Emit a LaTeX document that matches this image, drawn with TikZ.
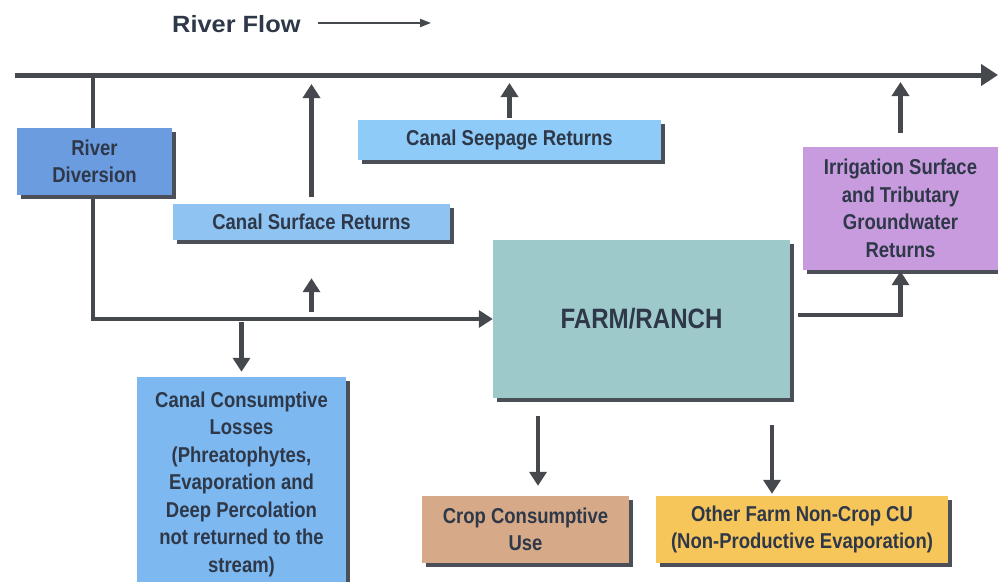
\documentclass[tikz,border=0pt]{standalone}
\usepackage{fontspec}
\setmainfont{Liberation Sans}[FakeStretch=0.86]
\newfontfamily\titlefont{Liberation Sans}[FakeStretch=1.08]
\usetikzlibrary{arrows.meta,shadows}
\pgfdeclarelayer{bg}
\pgfsetlayers{bg,main}
\definecolor{linec}{HTML}{45484D}
\definecolor{shc}{HTML}{4A4F58}
\definecolor{txtc}{HTML}{2E3848}
\definecolor{cdiv}{HTML}{6C9CE0}
\definecolor{csurf}{HTML}{8EC3F2}
\definecolor{cseep}{HTML}{8ECBF8}
\definecolor{closs}{HTML}{7DB8F0}
\definecolor{cirr}{HTML}{C79BDD}
\definecolor{cfarm}{HTML}{9DC9CB}
\definecolor{ccrop}{HTML}{D6AA88}
\definecolor{cother}{HTML}{F7C65A}
\tikzset{
  flowbox/.style={rectangle, inner sep=0pt, align=center, text=txtc,
    font=\bfseries\fontsize{21.5}{27.5}\selectfont,
    general shadow={fill=shc, shadow xshift=4pt, shadow yshift=-4pt}},
  arr/.style={line width=4.5pt, draw=linec, -{Triangle[width=17pt,length=14pt]}},
  riverline/.style={line width=5pt, draw=linec, -{Triangle[width=21pt,length=17pt]}},
  flowarr/.style={line width=2pt, draw=linec, -{Triangle[width=8pt,length=11pt]}},
  titletext/.style={text=txtc, font=\titlefont\bfseries\fontsize{23.5}{28}\selectfont, inner sep=0pt}
}
\begin{document}
\begin{tikzpicture}[x=1pt,y=-1pt]
\clip (0,0) rectangle (998,581);
\begin{pgfonlayer}{bg}
\fill[white] (0,0) rectangle (998,581);
\end{pgfonlayer}

% title
\node[titletext, anchor=west] (rf) at (172,24) {River Flow};
\coordinate (rfa) at (318,23);
\coordinate (rfb) at (431,23);
\draw[flowarr] (rfa) -- (rfb);

% river
\coordinate (rs) at (15,75);
\coordinate (re) at (998,75);
\draw[riverline] (rs) -- (re);

% boxes
\node[flowbox, fill=cdiv, minimum width=155pt, minimum height=67pt] (rd) at (94.5,161.5) {River\\Diversion};
\node[flowbox, fill=csurf, minimum width=277pt, minimum height=36pt] (csr) at (311.5,222) {Canal Surface Returns};
\node[flowbox, fill=cseep, minimum width=303pt, minimum height=40pt] (csp) at (509.5,140) {Canal Seepage Returns};
\node[flowbox, fill=cirr, minimum width=195pt, minimum height=123pt] (irr) at (900.5,208.5) {Irrigation Surface\\and Tributary\\Groundwater\\Returns};
\node[flowbox, fill=cfarm, minimum width=297pt, minimum height=158pt, font=\bfseries\fontsize{28}{33}\selectfont] (farm) at (641.5,319) {FARM/RANCH};
\node[flowbox, fill=closs, minimum width=209pt, minimum height=214pt] (ccl) at (241.5,484) {Canal Consumptive\\Losses\\(Phreatophytes,\\Evaporation and\\Deep Percolation\\not returned to the\\stream)};
\node[flowbox, fill=ccrop, minimum width=207pt, minimum height=67pt] (crop) at (525.5,529.5) {Crop Consumptive\\Use};
\node[flowbox, fill=cother, minimum width=292pt, minimum height=67pt] (other) at (802,529.5) {Other Farm Non-Crop CU\\(Non-Productive Evaporation)};

% diversion canal
\coordinate (div) at (93,75);
\begin{pgfonlayer}{bg}
\draw[arr] (div) |- (farm.west);
\end{pgfonlayer}

% returns to river
\draw[arr, shorten >=9pt] ([yshift=7pt]csr.north) -- (csr.north |- rs);
\draw[arr, shorten >=8pt] ([yshift=2pt]csp.north) -- (csp.north |- rs);
\draw[arr, shorten >=7pt] ([yshift=14pt]irr.north) -- (irr.north |- rs);

% canal to surface returns
\draw[arr] ([yshift=-72pt]csr.south) -- ([yshift=-38pt]csr.south);

% canal losses
\draw[arr, shorten <=3pt, shorten >=5pt] (ccl.north |- farm.west) -- (ccl.north);

% farm to irrigation returns
\draw[arr, shorten <=8pt, shorten >=1pt] ([yshift=4pt]farm.east) -| (irr.south);

% farm to crop / other
\coordinate (cropin) at ([xshift=12.5pt]crop.north);
\coordinate (othin) at ([xshift=-30pt]other.north);
\draw[arr, shorten <=18pt, shorten >=10pt] (cropin |- farm.south) -- (cropin);
\draw[arr, shorten <=27pt, shorten >=2pt] (othin |- farm.south) -- (othin);
\end{tikzpicture}
\end{document}
